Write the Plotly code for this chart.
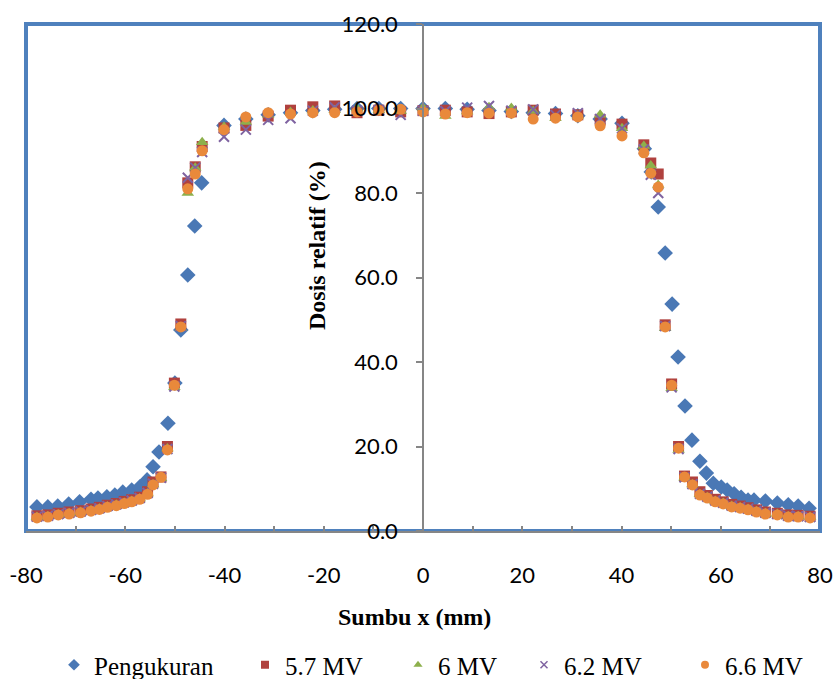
import plotly.graph_objects as go

# ---- data ----
x_peng = [-77.8, -75.6, -73.6, -71.4, -69.2, -66.9, -65.5, -63.7, -62.1, -60.5, -58.7, -57.1, -55.6, -54.4,
          -53.2, -51.4, -50.0, -48.8, -47.4, -46.0, -44.6, -40.1, -35.7, -31.2, -26.7, -22.2, -17.8, -13.3,
          -8.9, -4.5, 0.0, 4.5, 8.9, 13.3, 17.8, 22.2, 26.7, 31.2, 35.7, 40.1, 44.6, 46.0, 47.4, 48.8, 50.2,
          51.4, 52.8, 54.2, 55.8, 57.1, 58.5, 60.1, 61.3, 62.7, 64.1, 65.5, 66.7, 69.0, 71.4, 73.6, 75.6, 77.8]
y_peng = [5.7, 5.7, 5.9, 6.4, 6.9, 7.5, 7.8, 8.1, 8.5, 9.2, 9.7, 10.4, 12.1, 15.2,
          18.7, 25.5, 35.0, 47.6, 60.6, 72.2, 82.4, 96.0, 97.5, 98.5, 99.0, 99.5, 99.8, 100.0,
          100.0, 100.0, 100.0, 100.0, 99.8, 99.5, 99.3, 99.0, 98.8, 98.3, 97.5, 96.5, 90.5, 85.0, 76.7, 65.8, 53.7,
          41.2, 29.6, 21.5, 16.5, 13.7, 11.3, 10.4, 9.7, 8.8, 8.0, 7.3, 7.3, 7.1, 6.6, 6.2, 5.9, 5.4]

x_model = [-77.8, -75.6, -73.5, -71.3, -69.0, -66.9, -65.2, -63.6, -61.8, -60.2, -58.7, -57.1, -55.5, -54.4,
           -52.8, -51.5, -50.1, -48.8, -47.4, -45.9, -44.5,
           -40.1, -35.7, -31.2, -26.7, -22.2, -17.8, -13.3, -8.9, -4.5, 0.0, 4.5, 8.9, 13.3, 17.8, 22.2,
           26.7, 31.2, 35.7, 40.1,
           44.5, 45.9, 47.4, 48.8, 50.1, 51.5, 52.7, 54.3, 55.8, 57.3, 58.9, 60.5, 62.2, 63.9, 65.5, 67.2,
           69.0, 71.4, 73.6, 75.6, 78.0]

y_57 = [3.6, 3.8, 4.2, 4.5, 4.8, 5.2, 5.6, 6.1, 6.5, 7.0, 7.4, 8.0, 9.3, 11.6, 12.8, 20.0, 35.0, 49.0, 82.4, 86.2, 91.0,
        95.4, 96.0, 98.2, 99.6, 100.4, 100.6, 99.0, 99.6, 99.2, 99.5, 99.6, 99.2, 98.8, 99.2, 99.6, 98.7, 98.5, 97.3, 96.3,
        91.4, 87.1, 84.5, 48.8, 34.8, 20.0, 13.0, 11.6, 9.3, 8.4, 7.5, 6.9, 6.3, 5.9, 5.5, 5.0, 4.5, 4.2, 3.8, 3.7, 3.5]
y_6 = [3.3, 3.5, 3.9, 4.2, 4.5, 4.9, 5.3, 5.8, 6.2, 6.7, 7.1, 7.7, 8.9, 11.0, 12.5, 19.5, 34.0, 48.0, 80.0, 86.0, 92.0,
       95.6, 96.8, 98.5, 99.2, 99.5, 99.6, 100.0, 99.6, 99.4, 100.2, 98.2, 99.3, 100.3, 100.1, 99.4, 97.7, 98.3, 98.5, 95.3,
       91.1, 86.5, 81.9, 48.0, 33.8, 19.2, 12.6, 11.0, 8.7, 8.0, 7.1, 6.6, 5.9, 5.6, 5.2, 4.7, 4.2, 4.0, 3.5, 3.5, 3.3]
y_62 = [3.4, 3.6, 4.0, 4.3, 4.6, 5.0, 5.4, 5.9, 6.3, 6.8, 7.2, 7.8, 9.0, 11.2, 12.6, 19.4, 34.2, 48.5, 83.6, 86.0, 89.7,
        93.3, 95.0, 97.3, 97.7, 99.5, 100.3, 99.5, 99.6, 98.5, 99.5, 99.4, 100.2, 100.6, 99.5, 99.8, 98.5, 98.9, 97.5, 95.3,
        90.3, 84.3, 80.0, 48.5, 34.0, 19.4, 12.7, 11.1, 8.8, 8.1, 7.2, 6.7, 6.0, 5.7, 5.3, 4.8, 4.3, 4.0, 3.6, 3.5, 3.3]
y_66 = [3.1, 3.3, 3.8, 4.0, 4.3, 4.7, 5.1, 5.6, 6.0, 6.5, 6.9, 7.5, 8.7, 10.9, 12.7, 19.2, 34.5, 48.3, 81.0, 84.5, 90.0,
        95.0, 98.0, 99.0, 98.7, 99.0, 99.0, 99.2, 99.6, 99.8, 99.2, 98.7, 99.0, 98.9, 98.9, 97.5, 97.7, 98.0, 95.9, 93.5,
        89.5, 84.7, 81.4, 48.3, 34.5, 19.6, 12.8, 10.9, 8.5, 7.8, 6.9, 6.4, 5.7, 5.4, 5.0, 4.5, 4.0, 3.8, 3.3, 3.3, 3.1]

series_names = ["Pengukuran", "5.7 MV", "6 MV", "6.2 MV", "6.6 MV"]
x_ticks = [-80, -60, -40, -20, 0, 20, 40, 60, 80]
x_ticktext = ["-80", "-60", "-40", "-20", "0", "20", "40", "60", "80"]
y_ticks = [0, 20, 40, 60, 80, 100, 120]
y_ticktext = ["0.0", "20.0", "40.0", "60.0", "80.0", "100.0", "120.0"]

# ---- figure ----
W, H = 833, 679
ML, MR, MT, MB = 26, 13, 24, 148
PW, PH = W - ML - MR, H - MT - MB

def px2paper_x(px):
    return (px - ML) / PW

def px2paper_y(py):
    return (H - MB - py) / PH

fig = go.Figure()

colors = ["#4A78B5", "#B0413E", "#8DB04C", "#7F63A1", "#E9893B"]
styles = [
    dict(symbol="diamond", size=12, color=colors[0]),
    dict(symbol="square", size=11, color=colors[1]),
    dict(symbol="triangle-up", size=11, color=colors[2]),
    dict(symbol="x-thin", size=10, color=colors[3], line=dict(width=2, color=colors[3])),
    dict(symbol="circle", size=11, color=colors[4]),
]
legend_styles = [
    dict(symbol="diamond", size=9, color=colors[0]),
    dict(symbol="square", size=8, color=colors[1]),
    dict(symbol="triangle-up", size=8, color=colors[2]),
    dict(symbol="x-thin", size=7, color=colors[3], line=dict(width=1.5, color=colors[3])),
    dict(symbol="circle", size=8, color=colors[4]),
]
data = [(x_peng, y_peng), (x_model, y_57), (x_model, y_6), (x_model, y_62), (x_model, y_66)]
legend_ids = ["legend", "legend2", "legend3", "legend4", "legend5"]

for (xs, ys), name, st in zip(data, series_names, styles):
    fig.add_trace(go.Scatter(x=xs, y=ys, mode="markers", name=name, marker=st,
                             showlegend=False, cliponaxis=False))
# legend entries (same series, smaller legend keys like the original)
for name, st, lg in zip(series_names, legend_styles, legend_ids):
    fig.add_trace(go.Scatter(x=[None], y=[None], mode="markers", name=name, marker=st,
                             legend=lg, showlegend=True))

tick_font = dict(family="Lato", size=22, color="#000000")
serif = "Liberation Serif"

fig.update_layout(
    width=W, height=H,
    margin=dict(l=ML, r=MR, t=MT, b=MB, pad=0, autoexpand=False),
    paper_bgcolor="white", plot_bgcolor="white",
    xaxis=dict(range=[-80, 80], tickvals=x_ticks, ticktext=x_ticktext, ticks="inside", ticklen=5,
               tickwidth=1.5, tickcolor="#868686", showline=True, linecolor="#868686", linewidth=1.5,
               showgrid=False, zeroline=False, tickfont=tick_font, ticklabelstandoff=24, automargin=False,
               minor=dict(dtick=10, ticks="inside", ticklen=5, tickwidth=1.5, tickcolor="#868686",
                          showgrid=False)),
    yaxis=dict(range=[0, 120], tickvals=y_ticks, ticktext=y_ticktext, ticks="outside", ticklen=6,
               tickwidth=1.5, tickcolor="#868686", showline=True, linecolor="#868686", linewidth=1.5,
               showgrid=False, zeroline=False, tickfont=tick_font, anchor="free", position=0.5,
               ticklabelstandoff=14, automargin=False),
    shapes=[dict(type="rect", xref="paper", yref="paper", x0=0, x1=1, y0=0, y1=1,
                 line=dict(color="#4F81BD", width=4), layer="below")],
    annotations=[
        dict(text="<b>Dosis relatif (%)</b>", textangle=-90, xref="paper", yref="paper",
             x=px2paper_x(317), y=px2paper_y(246), xanchor="center", yanchor="middle",
             showarrow=False, font=dict(family=serif, size=24, color="#000000")),
        dict(text="<b>Sumbu x (mm)</b>", xref="paper", yref="paper",
             x=px2paper_x(414), y=px2paper_y(617), xanchor="center", yanchor="middle",
             showarrow=False, font=dict(family=serif, size=24, color="#000000")),
    ],
)

legend_text_starts = [96, 287, 440, 566, 727]
for lg, tx in zip(legend_ids, legend_text_starts):
    fig.update_layout({lg: dict(xref="container", yref="container",
                                x=(tx - 42) / W, y=1 - 665 / H, xanchor="left", yanchor="middle",
                                orientation="h", bgcolor="rgba(0,0,0,0)", borderwidth=0,
                                font=dict(family=serif, size=25, color="#000000"),
                                itemwidth=30)})

fig.write_html("out.html",
               config={"displayModeBar": False},
               post_script="document.body.style.margin='0';document.body.style.padding='0';"
                           "document.body.style.overflow='hidden';")
